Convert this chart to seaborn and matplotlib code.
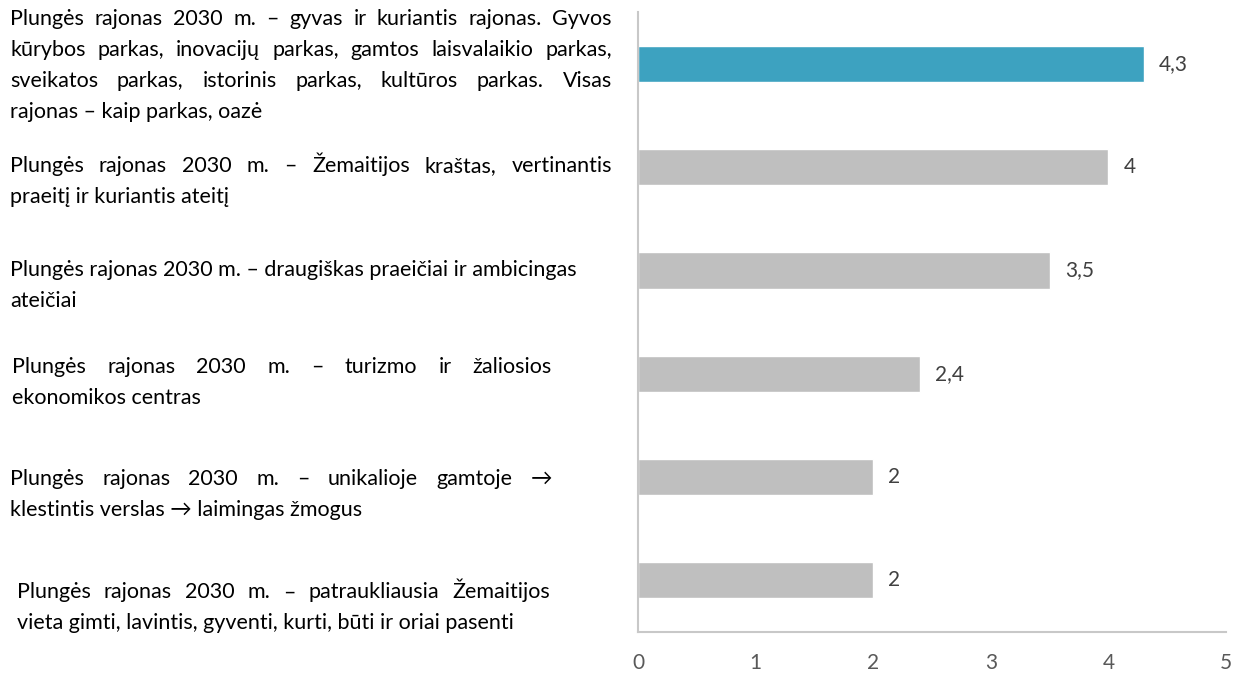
import matplotlib
matplotlib.use('Agg')
import matplotlib.pyplot as plt
import matplotlib.transforms as mtransforms
import seaborn as sns

# Data
labels = [
    "Plungės rajonas 2030 m. – gyvas ir kuriantis rajonas. Gyvos\n"
    "kūrybos parkas, inovacijų parkas, gamtos laisvalaikio parkas,\n"
    "sveikatos parkas, istorinis parkas, kultūros parkas. Visas\n"
    "rajonas – kaip parkas, oazė",
    "Plungės rajonas 2030 m. – Žemaitijos kraštas, vertinantis\n"
    "praeitį ir kuriantis ateitį",
    "Plungės rajonas 2030 m. – draugiškas praeičiai ir ambicingas\n"
    "ateičiai",
    "Plungės rajonas 2030 m. – turizmo ir žaliosios\n"
    "ekonomikos centras",
    "Plungės rajonas 2030 m. – unikalioje gamtoje →\n"
    "klestintis verslas → laimingas žmogus",
    "Plungės rajonas 2030 m. – patraukliausia Žemaitijos\n"
    "vieta gimti, lavintis, gyventi, kurti, būti ir oriai pasenti",
]
values = [4.3, 4, 3.5, 2.4, 2, 2]
highlight = 0
x_ticks = [0, 1, 2, 3, 4, 5]

# layout of label blocks (pixels): left, right, first-line offset from bar, justify flags
block_x = [(10, 612), (10, 612), (10, 612), (12, 552), (10, 552), (17, 550)]
block_dy = [-45, -1, 0, -7, 2, 12]
block_justify = [[1, 1, 1, 0], [1, 0], [0, 0], [1, 0], [1, 0], [1, 0]]

sns.set_theme(style='white')
plt.rcParams['font.family'] = ['Lato', 'DejaVu Sans']

BLUE = '#3DA2C0'
GRAY = '#BFBFBF'
TXT = '#595959'
VAL = '#404040'
FS = 15.5

fig = plt.figure(figsize=(12.34, 6.75), dpi=100)
ax = fig.add_axes([0.517, 0.0637, 0.4765, 0.9183])

cats = [f'c{i}' for i in range(len(values))]
colors = [BLUE if i == highlight else GRAY for i in range(len(values))]
sns.barplot(x=values, y=cats, hue=cats, palette=colors, orient='h',
            width=0.35, legend=False, saturation=1, ax=ax)

ax.set_xlim(0, 5)
ax.set_ylim(len(values) - 0.5, -0.5)
ax.set_xticks(x_ticks)
ax.set_xticklabels([str(t) for t in x_ticks], fontsize=15, color=TXT)
ax.tick_params(axis='x', length=0, pad=15)
ax.set_yticks([])
ax.set_xlabel('')
ax.set_ylabel('')
for s in ['top', 'right']:
    ax.spines[s].set_visible(False)
for s in ['left', 'bottom']:
    ax.spines[s].set_color('#C8C8C8')
    ax.spines[s].set_linewidth(1.5)

for cont in ax.containers:
    ax.bar_label(cont, labels=[f'{v:g}'.replace('.', ',') for v in cont.datavalues],
                 padding=11, fontsize=15, color=VAL)

# left-hand text blocks, justified like the original
fig.canvas.draw()
renderer = fig.canvas.get_renderer()
ident = mtransforms.IdentityTransform()
line_h = 31
base_shift = 6
for i, lab in enumerate(labels):
    x0, x1 = block_x[i]
    y_bar = ax.transData.transform((0, i))[1]
    y = y_bar - block_dy[i] - base_shift
    for k, line in enumerate(lab.split('\n')):
        yy = y - k * line_h
        words = line.split(' ')
        if block_justify[i][k] and len(words) > 1:
            ts = [fig.text(0, yy, w, transform=ident, fontsize=FS, color='black',
                           va='baseline', ha='left') for w in words]
            ws = [t.get_window_extent(renderer).width for t in ts]
            gap = (x1 - x0 - sum(ws)) / (len(words) - 1)
            xx = x0
            for t, w in zip(ts, ws):
                t.set_x(xx)
                xx += w + gap
        else:
            fig.text(x0, yy, line, transform=ident, fontsize=FS, color='black',
                     va='baseline', ha='left')

plt.savefig('out.png', dpi=100)
plt.close()
